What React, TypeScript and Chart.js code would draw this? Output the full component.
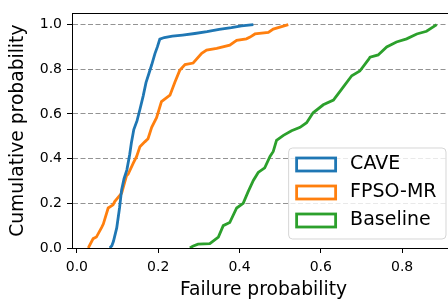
import { useEffect, useRef } from 'react';
import { Chart, registerables } from 'chart.js';

Chart.register(...registerables);

const seriesLabels = ['CAVE', 'FPSO-MR', 'Baseline'];
const seriesColors = ['#1f77b4', '#ff7f0e', '#2ca02c'];

const caveX = [0.081, 0.086, 0.090, 0.098, 0.105, 0.110, 0.116, 0.123, 0.130, 0.134, 0.140, 0.148, 0.155, 0.163, 0.170, 0.177, 0.184, 0.192, 0.198, 0.204, 0.215, 0.235, 0.260, 0.290, 0.320, 0.350, 0.380, 0.405, 0.434];
const caveY = [0.0, 0.01, 0.03, 0.09, 0.18, 0.26, 0.31, 0.35, 0.42, 0.47, 0.53, 0.57, 0.62, 0.68, 0.74, 0.78, 0.82, 0.87, 0.90, 0.935, 0.942, 0.948, 0.953, 0.96, 0.968, 0.978, 0.986, 0.994, 1.0];

const fpsoX = [0.028, 0.040, 0.048, 0.061, 0.065, 0.077, 0.089, 0.093, 0.106, 0.110, 0.122, 0.126, 0.139, 0.147, 0.155, 0.167, 0.175, 0.184, 0.196, 0.208, 0.229, 0.241, 0.253, 0.266, 0.286, 0.307, 0.319, 0.344, 0.376, 0.393, 0.417, 0.426, 0.438, 0.471, 0.483, 0.520];
const fpsoY = [0.0, 0.042, 0.049, 0.092, 0.107, 0.179, 0.193, 0.208, 0.237, 0.245, 0.323, 0.33, 0.381, 0.41, 0.453, 0.475, 0.489, 0.54, 0.583, 0.655, 0.684, 0.742, 0.795, 0.821, 0.828, 0.871, 0.886, 0.893, 0.908, 0.929, 0.936, 0.944, 0.958, 0.965, 0.98, 1.0];

const baseX = [0.278, 0.285, 0.298, 0.327, 0.348, 0.360, 0.376, 0.393, 0.409, 0.421, 0.434, 0.446, 0.462, 0.475, 0.483, 0.491, 0.508, 0.528, 0.549, 0.565, 0.581, 0.606, 0.631, 0.655, 0.676, 0.696, 0.717, 0.721, 0.741, 0.762, 0.786, 0.811, 0.836, 0.860, 0.885];
const baseY = [0.0, 0.008, 0.017, 0.02, 0.049, 0.1, 0.114, 0.179, 0.2, 0.251, 0.302, 0.338, 0.359, 0.41, 0.432, 0.482, 0.504, 0.525, 0.54, 0.561, 0.605, 0.641, 0.662, 0.72, 0.771, 0.792, 0.843, 0.854, 0.864, 0.9, 0.922, 0.936, 0.958, 0.97, 1.0];

const xTicks = [0, 0.2, 0.4, 0.6, 0.8];
const yTicks = [0, 0.2, 0.4, 0.6, 0.8, 1.0];

const FONT = 'DejaVu Sans';

const topSpine = {
  id: 'topSpine',
  afterDatasetsDraw(chart: any) {
    const { ctx, chartArea } = chart;
    ctx.save();
    ctx.strokeStyle = '#000';
    ctx.lineWidth = 1;
    const y = Math.round(chartArea.top) + 0.5;
    ctx.beginPath();
    ctx.moveTo(chartArea.left, y);
    ctx.lineTo(chartArea.right, y);
    ctx.stroke();
    ctx.restore();
  },
};

const boxLegend = {
  id: 'boxLegend',
  afterDraw(chart: any) {
    const { ctx, chartArea } = chart;
    const fs = 19;
    ctx.save();
    ctx.font = `${fs}px "${FONT}"`;
    const datasets = chart.data.datasets;
    let maxW = 0;
    datasets.forEach((d: any) => {
      maxW = Math.max(maxW, ctx.measureText(d.label).width);
    });
    const pad = 9.5;
    const right = chartArea.right - pad;
    const bottom = chartArea.bottom - pad;
    const w = 62 + maxW + 9;
    const h = 91;
    const left = right - w;
    const top = bottom - h;
    ctx.beginPath();
    ctx.roundRect(left + 0.5, top + 0.5, w, h, 4);
    ctx.fillStyle = 'rgba(255,255,255,0.8)';
    ctx.fill();
    ctx.strokeStyle = 'rgba(204,204,204,0.8)';
    ctx.lineWidth = 1;
    ctx.stroke();
    datasets.forEach((d: any, i: number) => {
      const cy = top + 17 + 28 * i;
      ctx.strokeStyle = d.borderColor;
      ctx.lineWidth = 2.8;
      ctx.strokeRect(left + 8.5, cy - 6.5, 39, 13);
      ctx.fillStyle = '#000';
      ctx.textBaseline = 'middle';
      ctx.textAlign = 'left';
      ctx.fillText(d.label, left + 62, cy);
    });
    ctx.restore();
  },
};

function toPoints(xs: number[], ys: number[]) {
  return xs.map((x, i) => ({ x, y: ys[i] }));
}

export default function App() {
  const ref = useRef<HTMLCanvasElement>(null);
  useEffect(() => {
    if (!ref.current) return;
    const seriesData = [toPoints(caveX, caveY), toPoints(fpsoX, fpsoY), toPoints(baseX, baseY)];
    const chart = new Chart(ref.current, {
      type: 'line',
      data: {
        datasets: seriesData.map((data, i) => ({
          label: seriesLabels[i],
          data,
          borderColor: seriesColors[i],
          backgroundColor: seriesColors[i],
          borderWidth: 2.8,
          pointRadius: 0,
          tension: 0,
          fill: false,
        })),
      },
      options: {
        animation: false,
        responsive: false,
        devicePixelRatio: 1,
        layout: { padding: { left: 0, top: 5, right: 3, bottom: 0 } },
        plugins: { legend: { display: false }, tooltip: { enabled: false } },
        scales: {
          x: {
            type: 'linear',
            min: -0.012,
            max: 0.93,
            afterBuildTicks: (a: any) => {
              a.ticks = xTicks.map((v) => ({ value: v }));
            },
            afterFit: (s: any) => {
              s.height = 58;
            },
            ticks: {
              callback: (v: any) => Number(v).toFixed(1),
              font: { family: FONT, size: 14 },
              color: '#000',
              padding: 6,
              maxRotation: 0,
              autoSkip: false,
            },
            grid: { drawOnChartArea: false, tickLength: 5, tickColor: '#000', tickWidth: 1 },
            border: { color: '#000', width: 1 },
            title: {
              display: true,
              text: 'Failure probability',
              font: { family: FONT, size: 18.7 },
              color: '#000',
              padding: { top: 0, bottom: 5 },
            },
          },
          y: {
            min: 0,
            max: 1.05,
            afterBuildTicks: (a: any) => {
              a.ticks = yTicks.map((v) => ({ value: v }));
            },
            afterFit: (s: any) => {
              s.width = 72;
            },
            ticks: {
              callback: (v: any) => Number(v).toFixed(1),
              font: { family: FONT, size: 14 },
              color: '#000',
              padding: 5,
              autoSkip: false,
            },
            grid: {
              color: (c: any) => (c.tick && c.tick.value === 0 ? 'rgba(0,0,0,0)' : 'rgba(128,128,128,0.85)'),
              lineWidth: 1,
              tickLength: 5,
              tickColor: '#000',
              tickWidth: 1,
              tickBorderDash: [],
            },
            border: { color: '#000', width: 1, dash: [5, 2.5] },
            title: {
              display: true,
              text: 'Cumulative probability',
              font: { family: FONT, size: 18.7 },
              color: '#000',
              padding: { top: 7, bottom: 0 },
            },
          },
        },
      } as any,
      plugins: [topSpine, boxLegend],
    });
    return () => chart.destroy();
  }, []);
  return (
    <div style={{ position: 'fixed', left: 0, top: 0, width: 448, height: 306, overflow: 'hidden', background: '#fff' }}>
      <canvas ref={ref} width={458} height={306} style={{ display: 'block' }} />
    </div>
  );
}
